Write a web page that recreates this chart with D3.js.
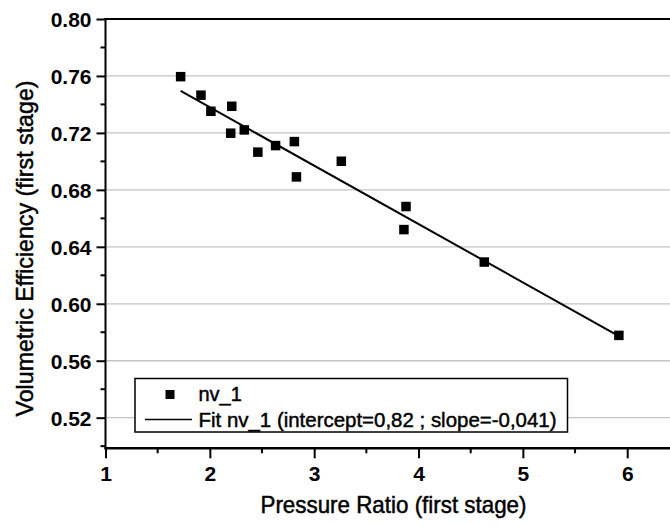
<!DOCTYPE html>
<html>
<head>
<meta charset="utf-8">
<script src="https://cdn.jsdelivr.net/npm/d3@7"></script>
<style>
  html, body { margin: 0; padding: 0; background: #fff; }
  svg { display: block; }
  text { font-family: "Liberation Sans", Arial, sans-serif; fill: #000; }
</style>
</head>
<body>
<svg id="chart" width="670" height="527"></svg>
<script>
// ---- data ----
const pressureRatio = [1.72, 1.915, 2.01, 2.21, 2.20, 2.33, 2.46, 2.63, 2.81, 2.83, 3.26, 3.88, 3.86, 4.63, 5.92];
const volEfficiency = [0.7595, 0.7465, 0.7352, 0.7387, 0.7198, 0.7221, 0.7065, 0.7111, 0.7139, 0.6891, 0.7001, 0.6683, 0.6521, 0.6293, 0.5778];
const fitIntercept = [0.82];
const fitSlope = [-0.041];
const xTickValues = [1, 2, 3, 4, 5, 6];
const yTickValues = [0.52, 0.56, 0.60, 0.64, 0.68, 0.72, 0.76, 0.80];
const seriesName = "nv_1";
const fitLabel = "Fit nv_1 (intercept=0,82 ; slope=-0,041)";
const xTitle = "Pressure Ratio (first stage)";
const yTitle = "Volumetric Efficiency (first stage)";

// ---- layout ----
const svg = d3.select("#chart");
const pL = 105.5, pR = 670, pT = 19, pB = 448.3;
const x = d3.scaleLinear().domain([1, 6.41]).range([pL, pR]);
const y = d3.scaleLinear().domain([0.4985, 0.80]).range([pB, pT]);

// grid lines
svg.append("g").selectAll("line")
  .data(yTickValues.filter(v => v < 0.80))
  .join("line")
  .attr("x1", pL).attr("x2", pR)
  .attr("y1", d => y(d)).attr("y2", d => y(d))
  .attr("stroke", "#c4c4c4").attr("stroke-width", 1.3);

// y axis
const yMinor = d3.range(0.50, 0.801, 0.02).map(v => +v.toFixed(2)).filter(v => !yTickValues.includes(v));
const yAxis = svg.append("g").attr("transform", `translate(${pL},0)`)
  .call(d3.axisLeft(y).tickValues(yTickValues).tickFormat(d3.format(".2f")).tickSize(9).tickPadding(5));
yAxis.select(".domain").remove();
yAxis.selectAll(".tick line").attr("stroke", "#000").attr("stroke-width", 2);
yAxis.selectAll(".tick text").attr("font-size", 21).attr("font-weight", "bold")
  .attr("font-family", "'Liberation Sans', Arial, sans-serif").attr("dy", "0.36em");
svg.append("g").selectAll("line").data(yMinor).join("line")
  .attr("x1", pL - 5).attr("x2", pL)
  .attr("y1", d => y(d)).attr("y2", d => y(d))
  .attr("stroke", "#000").attr("stroke-width", 2);

// x axis
const xMinor = d3.range(1.5, 6.41, 1);
const xAxis = svg.append("g").attr("transform", `translate(0,${pB})`)
  .call(d3.axisBottom(x).tickValues(xTickValues).tickFormat(d3.format("d")).tickSize(10).tickPadding(8));
xAxis.select(".domain").remove();
xAxis.selectAll(".tick line").attr("stroke", "#000").attr("stroke-width", 2);
xAxis.selectAll(".tick text").attr("font-size", 21).attr("font-weight", "bold")
  .attr("font-family", "'Liberation Sans', Arial, sans-serif");
svg.append("g").selectAll("line").data(xMinor).join("line")
  .attr("x1", d => x(d)).attr("x2", d => x(d))
  .attr("y1", pB).attr("y2", pB + 5)
  .attr("stroke", "#000").attr("stroke-width", 2);

// frame lines (left, bottom, top)
svg.append("line").attr("x1", pL).attr("x2", pL).attr("y1", pT - 1).attr("y2", pB + 1)
  .attr("stroke", "#000").attr("stroke-width", 2);
svg.append("line").attr("x1", pL - 1).attr("x2", pR).attr("y1", pB).attr("y2", pB)
  .attr("stroke", "#000").attr("stroke-width", 2.4);
svg.append("line").attr("x1", pL - 1).attr("x2", pR).attr("y1", pT).attr("y2", pT)
  .attr("stroke", "#000").attr("stroke-width", 2);

// fit line
const xMin = d3.min(pressureRatio), xMax = d3.max(pressureRatio);
const fitPts = [xMin, xMax].map(v => [v, fitIntercept[0] + fitSlope[0] * v]);
svg.append("path")
  .attr("d", d3.line().x(d => x(d[0])).y(d => y(d[1]))(fitPts))
  .attr("stroke", "#000").attr("stroke-width", 2).attr("fill", "none");

// points
const pts = pressureRatio.map((v, i) => [v, volEfficiency[i]]);
const ms = 9.5;
svg.append("g").selectAll("rect").data(pts).join("rect")
  .attr("x", d => x(d[0]) - ms / 2).attr("y", d => y(d[1]) - ms / 2)
  .attr("width", ms).attr("height", ms).attr("fill", "#000");

// legend
const lg = svg.append("g");
lg.append("rect").attr("x", 135).attr("y", 378.5).attr("width", 432.5).attr("height", 53.5)
  .attr("fill", "#fff").attr("stroke", "#000").attr("stroke-width", 1.5);
lg.append("rect").attr("x", 170 - 4.5).attr("y", 394.5 - 4.5).attr("width", 9).attr("height", 9).attr("fill", "#000");
lg.append("text").attr("x", 198.5).attr("y", 400.5).attr("font-size", 20)
  .attr("stroke", "#000").attr("stroke-width", 0.45).text(seriesName);
lg.append("line").attr("x1", 145).attr("x2", 192).attr("y1", 419.5).attr("y2", 419.5)
  .attr("stroke", "#000").attr("stroke-width", 1.5);
lg.append("text").attr("x", 198.5).attr("y", 427).attr("font-size", 20)
  .attr("stroke", "#000").attr("stroke-width", 0.45)
  .attr("textLength", 358).attr("lengthAdjust", "spacingAndGlyphs").text(fitLabel);

// axis titles
svg.append("text").attr("x", 393.5).attr("y", 513).attr("text-anchor", "middle")
  .attr("font-size", 24).attr("stroke", "#000").attr("stroke-width", 0.5)
  .attr("textLength", 266).attr("lengthAdjust", "spacingAndGlyphs").text(xTitle);
svg.append("text").attr("transform", "translate(33,248.5) rotate(-90)").attr("text-anchor", "middle")
  .attr("font-size", 24).attr("stroke", "#000").attr("stroke-width", 0.5)
  .attr("textLength", 336).attr("lengthAdjust", "spacingAndGlyphs").text(yTitle);
</script>
</body>
</html>
